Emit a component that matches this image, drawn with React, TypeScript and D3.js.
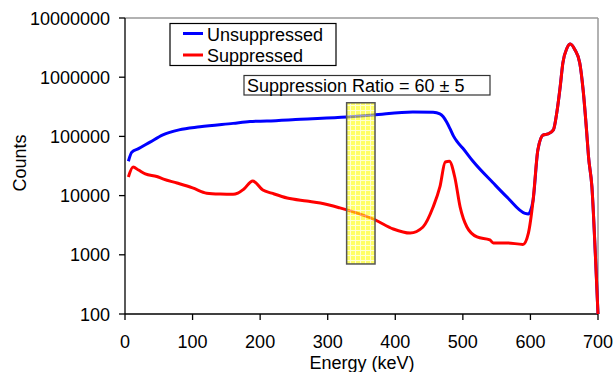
import React from "react";
import * as d3 from "d3";

const unsuppEnergy = [5, 10, 20, 37, 56, 80, 111, 160, 185, 210, 260, 328, 367, 426, 456, 466, 471, 476, 481, 486, 491, 500, 515, 545, 565, 592, 597, 600, 604, 611, 619, 626, 634, 639, 644, 648, 654, 659, 666, 673, 678, 683, 686, 691, 696, 700];
const unsuppCounts = [38000, 54000, 62000, 80000, 106000, 129000, 145000, 166000, 178000, 182000, 195000, 213000, 230000, 258000, 255000, 240000, 215000, 175000, 135000, 102000, 83000, 63000, 38000, 16300, 9500, 5000, 4900, 5500, 8430, 59000, 106000, 110000, 129000, 250000, 683000, 1740000, 3080000, 3630000, 2880000, 1740000, 608000, 129000, 45000, 14000, 1070, 100];

const suppEnergy = [5, 12, 20, 30, 47, 57, 77, 100, 121, 141, 160, 167, 176, 189, 204, 217, 240, 269, 289, 318, 338, 370, 397, 422, 441, 456, 466, 474, 480, 488, 496, 506, 521, 540, 545, 565, 589, 597, 604, 611, 619, 626, 634, 639, 644, 648, 654, 659, 666, 673, 678, 683, 686, 691, 696, 700];
const suppCounts = [20600, 30400, 27000, 23200, 21000, 19000, 16300, 13500, 11000, 10600, 10500, 11000, 12900, 17700, 12400, 11000, 9100, 8100, 7500, 6200, 5300, 3900, 2730, 2330, 2950, 6400, 14000, 37000, 38000, 20600, 6400, 2950, 2000, 1780, 1590, 1590, 1500, 2330, 8430, 59000, 106000, 110000, 129000, 250000, 683000, 1740000, 3080000, 3630000, 2880000, 1740000, 608000, 129000, 45000, 14000, 1070, 100];

const xTicks = [0, 100, 200, 300, 400, 500, 600, 700];
const yTicks = [100, 1000, 10000, 100000, 1000000, 10000000];
const bandEnergy = [328, 370];
const bandCounts = [700, 370000];
const seriesNames = ["Unsuppressed", "Suppressed"];
const annotation = "Suppression Ratio = 60 ± 5";

export default function App() {
  const W = 615, H = 372;
  const left = 125, right = 598, top = 18, bottom = 314;
  const x = d3.scaleLinear().domain([0, 700]).range([left, right]);
  const y = d3.scaleLog().domain([100, 10000000]).range([bottom, top]);
  const line = d3.line<[number, number]>()
    .x((d) => x(d[0]))
    .y((d) => y(d[1]))
    .curve(d3.curveMonotoneX);
  const blue = line(unsuppEnergy.map((e, i) => [e, unsuppCounts[i]] as [number, number])) || "";
  const red = line(suppEnergy.map((e, i) => [e, suppCounts[i]] as [number, number])) || "";
  const font = "'Liberation Sans', Arial, sans-serif";
  const bx0 = x(bandEnergy[0]), bx1 = x(bandEnergy[1]);
  const by0 = y(bandCounts[1]), by1 = y(bandCounts[0]);
  return (
    <svg width={W} height={H} style={{ position: "absolute", left: 0, top: 0, background: "#fff" }} fontFamily={font}>
      <defs>
        <pattern id="grid" patternUnits="userSpaceOnUse" width={5} height={5}>
          <rect width={5} height={5} fill="#FFFF00" />
          <path d="M0 0.5H5M0.5 0V5" stroke="#FFFFB8" strokeWidth={1} />
        </pattern>
      </defs>
      <line x1={left} x2={right} y1={top} y2={top} stroke="#999" strokeWidth={1.5} />
      <line x1={right} x2={right} y1={top} y2={bottom} stroke="#999" strokeWidth={1.5} />
      <line x1={left} x2={left} y1={top} y2={bottom} stroke="#000" strokeWidth={1.3} />
      <line x1={left} x2={right} y1={bottom} y2={bottom} stroke="#000" strokeWidth={1.3} />
      {yTicks.map((t) => (
        <g key={"y" + t}>
          <line x1={left - 6} x2={left} y1={y(t)} y2={y(t)} stroke="#000" strokeWidth={1.3} />
          <text x={left - 15} y={y(t) + 6.5} textAnchor="end" fontSize={18} fill="#000">{String(t)}</text>
        </g>
      ))}
      {xTicks.map((t) => (
        <g key={"x" + t}>
          <line x1={x(t)} x2={x(t)} y1={bottom} y2={bottom + 6} stroke="#000" strokeWidth={1.3} />
          <text x={x(t)} y={bottom + 34} textAnchor="middle" fontSize={18} fill="#000">{String(t)}</text>
        </g>
      ))}
      <text x={362} y={369} textAnchor="middle" fontSize={18} fill="#000">Energy (keV)</text>
      <text transform="translate(26,163) rotate(-90)" textAnchor="middle" fontSize={18} fill="#000">Counts</text>
      <path d={blue} fill="none" stroke="#0000FF" strokeWidth={3} strokeLinejoin="round" />
      <path d={red} fill="none" stroke="#FF0000" strokeWidth={3} strokeLinejoin="round" />
      <rect x={bx0} y={by0} width={bx1 - bx0} height={by1 - by0} fill="url(#grid)" fillOpacity={0.6} stroke="#555" strokeWidth={1.5} />
      <rect x={170} y={23.5} width={166} height={42} fill="#fff" stroke="#000" strokeWidth={1.2} />
      <line x1={183} x2={203} y1={33.5} y2={33.5} stroke="#0000FF" strokeWidth={3} />
      <line x1={183} x2={203} y1={55} y2={55} stroke="#FF0000" strokeWidth={3} />
      <text x={207} y={41} fontSize={18} fill="#000">{seriesNames[0]}</text>
      <text x={207} y={62} fontSize={18} fill="#000">{seriesNames[1]}</text>
      <rect x={244} y={75.5} width={246} height={19.5} fill="#fff" stroke="#333" strokeWidth={1.2} />
      <text x={247} y={91.5} fontSize={18} fill="#000">{annotation}</text>
    </svg>
  );
}
